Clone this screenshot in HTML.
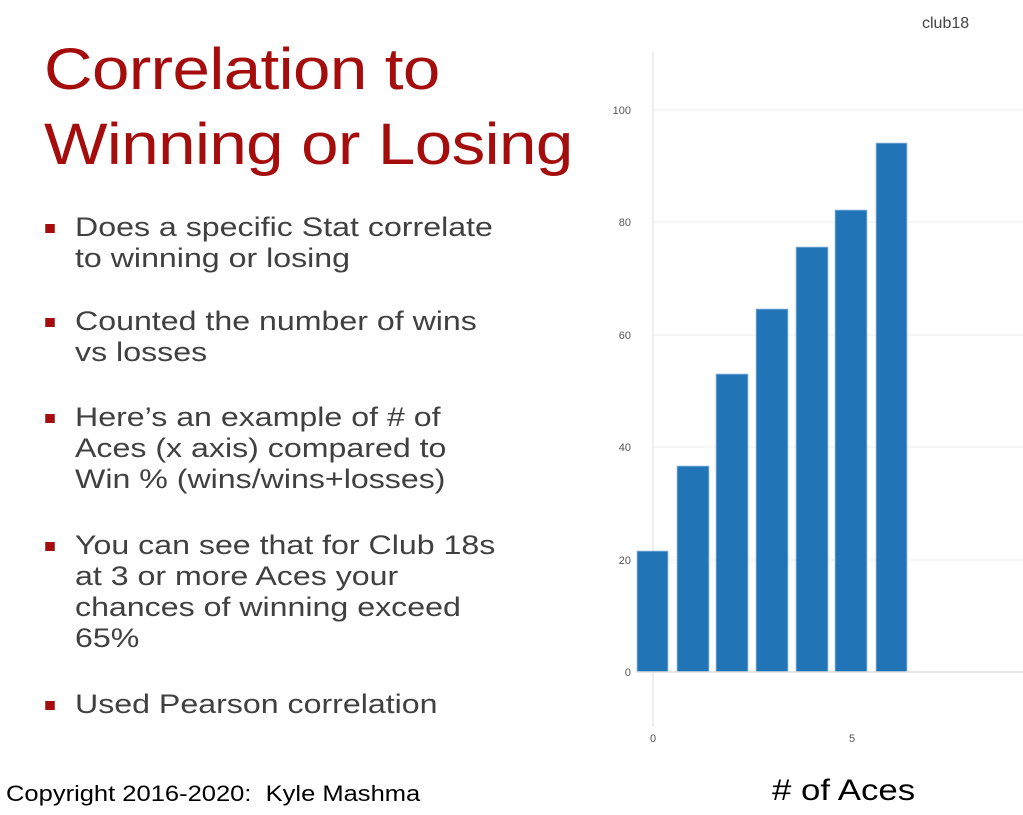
<!DOCTYPE html>
<html><head><style>
body{margin:0;width:1023px;height:815px;background:#fff;position:relative;overflow:hidden;font-family:"Liberation Sans",sans-serif}
.t{position:absolute;left:44px;color:#a50d0d;font-size:58px;line-height:75px;top:32px;letter-spacing:-0.5px;transform:scaleX(1.16);transform-origin:0 0}
.b{position:absolute;left:75px;color:#404040;font-size:27px;line-height:31px;width:460px;transform:scaleX(1.19);transform-origin:0 0}
.b:before{content:"";position:absolute;left:-25px;top:12px;width:8px;height:9px;background:#a50d0d}
</style></head><body>
<div class="t">Correlation to<br>Winning or Losing</div>
<div class="b" style="top:212px">Does a specific Stat correlate<br>to winning or losing</div>
<div class="b" style="top:306px">Counted the number of wins<br>vs losses</div>
<div class="b" style="top:402px">Here’s an example of # of<br>Aces (x axis) compared to<br>Win % (wins/wins+losses)</div>
<div class="b" style="top:530px">You can see that for Club 18s<br>at 3 or more Aces your<br>chances of winning exceed<br>65%</div>
<div class="b" style="top:689px">Used Pearson correlation</div>
<div style="position:absolute;left:6px;top:781px;font-size:22px;color:#000;transform:scaleX(1.16);transform-origin:0 0">Copyright 2016-2020:&nbsp; Kyle Mashma</div>
<div style="position:absolute;left:772px;top:774px;font-size:30px;color:#000;transform:scaleX(1.16);transform-origin:0 0"># of Aces</div>
<svg width="1023" height="815" style="position:absolute;left:0;top:0" font-family="Liberation Sans,sans-serif">
<text x="922" y="28" font-size="16" fill="#444">club18</text>
<g stroke="#eee" stroke-width="1">
<line x1="653" x2="1023" y1="110" y2="110"/><line x1="653" x2="1023" y1="222" y2="222"/>
<line x1="653" x2="1023" y1="335" y2="335"/><line x1="653" x2="1023" y1="447" y2="447"/>
<line x1="653" x2="1023" y1="560" y2="560"/></g>
<line x1="653" x2="653" y1="52" y2="727" stroke="#ddd"/>
<g fill="#2174b5" stroke="#a8c8e8" stroke-width="0.8">
<rect x="637" y="551" width="31" height="121"/>
<rect x="677" y="466" width="32" height="206"/>
<rect x="716" y="374" width="32" height="298"/>
<rect x="756" y="309" width="32" height="363"/>
<rect x="796" y="247" width="32" height="425"/>
<rect x="835" y="210" width="32" height="462"/>
<rect x="876" y="143" width="31" height="529"/></g>
<line x1="637" x2="1023" y1="672" y2="672" stroke="#ddd" stroke-width="1.5"/>
<g font-size="11" fill="#555" text-anchor="end">
<text x="631" y="114">100</text><text x="631" y="226">80</text><text x="631" y="339">60</text>
<text x="631" y="451">40</text><text x="631" y="564">20</text><text x="631" y="676">0</text></g>
<g font-size="11" fill="#555" text-anchor="middle"><text x="653" y="742">0</text><text x="852" y="742">5</text></g>
</svg>
</body></html>
